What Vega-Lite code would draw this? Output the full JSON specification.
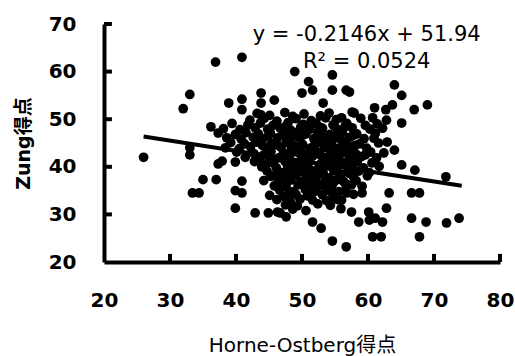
{
  "$schema": "https://vega.github.io/schema/vega-lite/v6.json",
  "width": 396,
  "height": 238,
  "autosize": "none",
  "padding": {"left": 104, "top": 24, "right": 15, "bottom": 94},
  "background": "white",
  "config": {
    "view": {"stroke": null},
    "axis": {"grid": false, "domainColor": "black", "tickColor": "black", "labelColor": "black", "titleColor": "black"}
  },
  "datasets": {
    "pts": [
      {"x":26,"y":42},{"x":36.9,"y":62},{"x":40.9,"y":63},{"x":48.9,"y":60},{"x":51,"y":57.9},{"x":54.6,"y":59.3},{"x":50,"y":55.5},{"x":51.6,"y":56.1},{"x":54.6,"y":56.1},{"x":56.7,"y":56.1},
      {"x":33,"y":55.2},{"x":32,"y":52.2},{"x":38.9,"y":53.4},{"x":40.9,"y":54.2},{"x":40.9,"y":52},{"x":43.8,"y":55.5},{"x":43.8,"y":53.4},{"x":45.8,"y":54},{"x":43.8,"y":50.9},{"x":36.2,"y":48.4},
      {"x":53.2,"y":53.4},{"x":56,"y":50.3},{"x":57.6,"y":51.5},{"x":64,"y":57.2},{"x":65.1,"y":55},{"x":69,"y":53},{"x":67,"y":52},{"x":63.7,"y":53},{"x":62.7,"y":52},{"x":61,"y":52.4},
      {"x":57.9,"y":51.3},{"x":60.7,"y":50.3},{"x":62.8,"y":49.8},{"x":65.1,"y":49.2},{"x":57.2,"y":55.7},{"x":62.9,"y":45.2},{"x":64,"y":43.5},{"x":65.1,"y":40.4},{"x":67.1,"y":39.3},{"x":71.8,"y":37.9},
      {"x":63.2,"y":34.5},{"x":66.6,"y":34.5},{"x":67.8,"y":34.5},{"x":62.8,"y":31.3},{"x":66.6,"y":29.2},{"x":68.8,"y":28.4},{"x":71.9,"y":28.2},{"x":73.8,"y":29.2},{"x":67.8,"y":25.3},{"x":54.6,"y":24.4},
      {"x":56.7,"y":23.2},{"x":60.7,"y":25.3},{"x":62,"y":25.3},{"x":60.2,"y":28.8},{"x":62.2,"y":28.4},{"x":58.6,"y":28.4},{"x":61.1,"y":29.2},{"x":57.5,"y":30.5},{"x":60.1,"y":30.5},{"x":52.9,"y":27.1},
      {"x":51.6,"y":28.4},{"x":47.6,"y":29.5},{"x":46.3,"y":30.5},{"x":51.6,"y":33},{"x":56,"y":33},{"x":56.6,"y":35},{"x":59.1,"y":34.5},{"x":33,"y":42.5},{"x":33,"y":44},{"x":37.3,"y":40.6},
      {"x":37.9,"y":41.2},{"x":39.9,"y":41},{"x":35,"y":37.3},{"x":37,"y":37.3},{"x":33.4,"y":34.5},{"x":34.4,"y":34.5},{"x":39.9,"y":31.3},{"x":40.9,"y":37},{"x":39.9,"y":35},{"x":40.9,"y":34.5},
      {"x":42.9,"y":30.3},{"x":44.9,"y":30.3},{"x":46.7,"y":30.3},
      {"x":43.2,"y":51.2},{"x":45.1,"y":50.8},{"x":47.4,"y":51.4},{"x":48.6,"y":50.6},{"x":50.3,"y":51.1},{"x":52.8,"y":50.7},{"x":54.1,"y":51.3},
      {"x":42.1,"y":49.8},{"x":44.3,"y":50.2},{"x":46.2,"y":49.6},{"x":49.1,"y":50.1},{"x":51.4,"y":49.7},{"x":53.6,"y":50.3},{"x":55.2,"y":49.9},{"x":58.9,"y":50.2},
      {"x":39.4,"y":49.1},{"x":41.8,"y":48.8},{"x":43.7,"y":49.2},{"x":45.6,"y":48.7},{"x":47.9,"y":49.3},{"x":50.2,"y":48.9},{"x":52.1,"y":49.2},{"x":54.7,"y":48.8},{"x":56.8,"y":49.1},{"x":59.6,"y":48.7},{"x":61.4,"y":49.0},
      {"x":38.1,"y":48.0},{"x":40.6,"y":47.8},{"x":42.9,"y":48.2},{"x":44.8,"y":47.9},{"x":46.7,"y":48.1},{"x":48.3,"y":47.7},{"x":49.8,"y":48.3},{"x":51.2,"y":47.9},{"x":53.1,"y":48.1},{"x":55.4,"y":47.8},{"x":57.6,"y":48.2},{"x":60.3,"y":47.9},{"x":62.2,"y":48.1},
      {"x":37.3,"y":47.1},{"x":39.9,"y":46.8},{"x":41.5,"y":47.2},{"x":43.4,"y":46.9},{"x":45.2,"y":47.1},{"x":47.1,"y":46.7},{"x":48.9,"y":47.2},{"x":50.6,"y":46.9},{"x":52.4,"y":47.1},{"x":54.2,"y":46.8},{"x":56.1,"y":47.2},{"x":58.3,"y":46.9},{"x":61.1,"y":47.0},
      {"x":38.6,"y":46.1},{"x":40.8,"y":45.8},{"x":42.6,"y":46.2},{"x":44.1,"y":45.9},{"x":46.3,"y":46.1},{"x":48.2,"y":45.7},{"x":49.5,"y":46.2},{"x":51.8,"y":45.9},{"x":53.7,"y":46.1},{"x":55.8,"y":45.8},{"x":57.2,"y":46.2},{"x":59.4,"y":45.9},{"x":60.9,"y":46.0},
      {"x":39.2,"y":45.1},{"x":41.3,"y":44.8},{"x":43.1,"y":45.2},{"x":45.4,"y":44.9},{"x":47.6,"y":45.1},{"x":50.1,"y":44.7},{"x":52.6,"y":45.2},{"x":54.5,"y":44.9},{"x":56.4,"y":45.1},{"x":58.7,"y":44.8},{"x":61.6,"y":45.0},
      {"x":38.4,"y":44.0},{"x":40.5,"y":43.8},{"x":42.2,"y":44.2},{"x":44.6,"y":43.9},{"x":46.8,"y":44.1},{"x":48.4,"y":43.7},{"x":49.9,"y":44.2},{"x":51.3,"y":43.9},{"x":53.4,"y":44.1},{"x":55.1,"y":43.8},{"x":57.3,"y":44.2},{"x":59.8,"y":43.9},
      {"x":40.1,"y":43.1},{"x":42.7,"y":42.8},{"x":45.3,"y":43.2},{"x":47.2,"y":42.9},{"x":49.2,"y":43.1},{"x":50.8,"y":42.7},{"x":52.2,"y":43.2},{"x":54.3,"y":42.9},{"x":56.2,"y":43.1},{"x":58.1,"y":42.8},{"x":60.4,"y":43.1},{"x":62.4,"y":42.9},
      {"x":41.4,"y":42.0},{"x":43.6,"y":41.8},{"x":44.9,"y":42.2},{"x":46.5,"y":41.9},{"x":48.1,"y":42.1},{"x":50.4,"y":41.7},{"x":51.6,"y":42.2},{"x":53.5,"y":41.9},{"x":55.6,"y":42.1},{"x":57.4,"y":41.8},{"x":59.1,"y":42.2},{"x":61.3,"y":41.9},
      {"x":42.8,"y":41.1},{"x":45.7,"y":40.8},{"x":47.4,"y":41.2},{"x":49.3,"y":40.9},{"x":51.1,"y":41.1},{"x":52.9,"y":40.7},{"x":54.6,"y":41.2},{"x":56.5,"y":40.9},{"x":58.4,"y":41.1},{"x":60.6,"y":40.8},
      {"x":43.9,"y":40.0},{"x":46.1,"y":39.8},{"x":47.8,"y":40.2},{"x":49.6,"y":39.9},{"x":50.9,"y":40.1},{"x":52.5,"y":39.7},{"x":53.9,"y":40.2},{"x":55.3,"y":39.9},{"x":57.1,"y":40.1},{"x":59.3,"y":39.8},{"x":61.7,"y":40.1},
      {"x":44.7,"y":39.1},{"x":46.9,"y":38.8},{"x":48.6,"y":39.2},{"x":50.2,"y":38.9},{"x":51.7,"y":39.1},{"x":53.2,"y":38.7},{"x":54.8,"y":39.2},{"x":56.9,"y":38.9},{"x":58.6,"y":39.1},{"x":60.2,"y":38.8},
      {"x":45.3,"y":38.0},{"x":47.3,"y":37.8},{"x":49.1,"y":38.2},{"x":50.7,"y":37.9},{"x":52.3,"y":38.1},{"x":54.1,"y":37.7},{"x":55.7,"y":38.2},{"x":57.8,"y":37.9},{"x":59.9,"y":38.1},
      {"x":44.2,"y":37.1},{"x":46.4,"y":36.8},{"x":48.3,"y":37.2},{"x":49.9,"y":36.9},{"x":51.5,"y":37.1},{"x":53.4,"y":36.7},{"x":55.2,"y":37.2},{"x":56.3,"y":36.9},{"x":58.2,"y":37.1},
      {"x":45.8,"y":36.0},{"x":47.6,"y":35.8},{"x":49.4,"y":36.2},{"x":51.2,"y":35.9},{"x":52.8,"y":36.1},{"x":54.4,"y":35.7},{"x":57.5,"y":36.2},{"x":59.1,"y":35.9},
      {"x":46.6,"y":35.1},{"x":48.7,"y":34.8},{"x":50.5,"y":35.2},{"x":52.1,"y":34.9},{"x":53.8,"y":35.1},{"x":55.6,"y":34.8},
      {"x":45.1,"y":34.0},{"x":47.2,"y":33.8},{"x":49.1,"y":34.2},{"x":50.8,"y":33.9},{"x":53.1,"y":34.1},{"x":54.9,"y":33.7},{"x":57.8,"y":34.2},
      {"x":46.2,"y":33.1},{"x":48.2,"y":32.8},{"x":49.7,"y":33.2},{"x":53.7,"y":32.9},{"x":55.4,"y":33.1},
      {"x":47.5,"y":32.0},{"x":49.3,"y":31.8},{"x":52.4,"y":32.2},{"x":54.3,"y":31.9},
      {"x":48.6,"y":31.1},{"x":50.6,"y":30.8},{"x":55.9,"y":31.2},
      {"x":47.5,"y":48.5},{"x":50.5,"y":48.6},{"x":52.6,"y":48.4},{"x":54.9,"y":48.6},{"x":56.5,"y":48.4},
      {"x":44.9,"y":46.5},{"x":47.7,"y":46.4},{"x":50.1,"y":46.6},{"x":53,"y":46.5},{"x":55,"y":46.4},{"x":57.8,"y":46.6},
      {"x":44,"y":44.5},{"x":46.2,"y":44.6},{"x":48.9,"y":44.4},{"x":51.9,"y":44.5},{"x":53.8,"y":44.6},{"x":56.1,"y":44.4},{"x":58,"y":44.5},
      {"x":44.2,"y":42.5},{"x":47.6,"y":42.4},{"x":49.8,"y":42.6},{"x":52.8,"y":42.5},{"x":55,"y":42.4},{"x":57,"y":42.6},{"x":59.6,"y":42.5},
      {"x":44.6,"y":40.5},{"x":48.5,"y":40.4},{"x":50.2,"y":40.6},{"x":53.6,"y":40.5},{"x":55.8,"y":40.4},{"x":57.7,"y":40.6},
      {"x":46.1,"y":38.5},{"x":48,"y":38.4},{"x":51,"y":38.6},{"x":52.9,"y":38.5},{"x":55.9,"y":38.4},{"x":57.2,"y":38.6},
      {"x":47,"y":36.5},{"x":50.6,"y":36.4},{"x":52.2,"y":36.6},{"x":54.7,"y":36.5},{"x":56.6,"y":36.4},
      {"x":48.1,"y":34.5},{"x":51.4,"y":34.4},{"x":54.5,"y":34.6},{"x":56.8,"y":34.5}
    ],
    "fit": [{"x": 26, "y": 46.36}, {"x": 74.2, "y": 36.02}],
    "xticks": [{"v": 30}, {"v": 40}, {"v": 50}, {"v": 60}, {"v": 70}, {"v": 80}],
    "yticks": [{"v": 30}, {"v": 40}, {"v": 50}, {"v": 60}, {"v": 70}],
    "ann": [
      {"x": 59.8, "y": 67.7, "t": "y = -0.2146x + 51.94"},
      {"x": 59.8, "y": 62.0, "t": "R² = 0.0524"}
    ]
  },
  "layer": [
    {
      "data": {"name": "pts"},
      "mark": {"type": "circle", "size": 95, "color": "black", "opacity": 1},
      "encoding": {
        "x": {"field": "x", "type": "quantitative",
          "scale": {"domain": [20, 80], "nice": false, "zero": false},
          "axis": {"values": [20, 30, 40, 50, 60, 70, 80], "title": "Horne-Ostberg得点",
            "domainWidth": 4, "ticks": false, "tickSize": 0, "labelPadding": 28, "labelFlush": false,
            "labelFont": "DejaVu Sans", "labelFontWeight": "bold", "labelFontSize": 20,
            "titleFont": "DejaVu Sans, Noto Sans CJK JP", "titleFontSize": 20, "titleFontWeight": "normal", "titlePadding": 25}},
        "y": {"field": "y", "type": "quantitative",
          "scale": {"domain": [20, 70], "nice": false, "zero": false},
          "axis": {"values": [20, 30, 40, 50, 60, 70], "title": "Zung得点",
            "domainWidth": 4, "ticks": false, "tickSize": 0, "labelPadding": 28,
            "labelFont": "DejaVu Sans", "labelFontWeight": "bold", "labelFontSize": 20,
            "titleFont": "DejaVu Sans, Noto Sans CJK JP", "titleFontSize": 19, "titleFontWeight": "bold", "titlePadding": 15}}
      }
    },
    {
      "data": {"name": "xticks"},
      "mark": {"type": "rule", "color": "black", "strokeWidth": 4},
      "encoding": {"x": {"field": "v", "type": "quantitative"}, "y": {"datum": 20}, "y2": {"datum": 21.7}}
    },
    {
      "data": {"name": "yticks"},
      "mark": {"type": "rule", "color": "black", "strokeWidth": 4},
      "encoding": {"y": {"field": "v", "type": "quantitative"}, "x": {"datum": 20}, "x2": {"datum": 21.2}}
    },
    {
      "data": {"name": "fit"},
      "mark": {"type": "line", "color": "black", "strokeWidth": 4},
      "encoding": {"x": {"field": "x", "type": "quantitative"}, "y": {"field": "y", "type": "quantitative"}}
    },
    {
      "data": {"name": "ann"},
      "mark": {"type": "text", "font": "DejaVu Sans", "fontSize": 21, "color": "black", "align": "center", "baseline": "middle"},
      "encoding": {"x": {"field": "x", "type": "quantitative"}, "y": {"field": "y", "type": "quantitative"}, "text": {"field": "t"}}
    }
  ]
}
